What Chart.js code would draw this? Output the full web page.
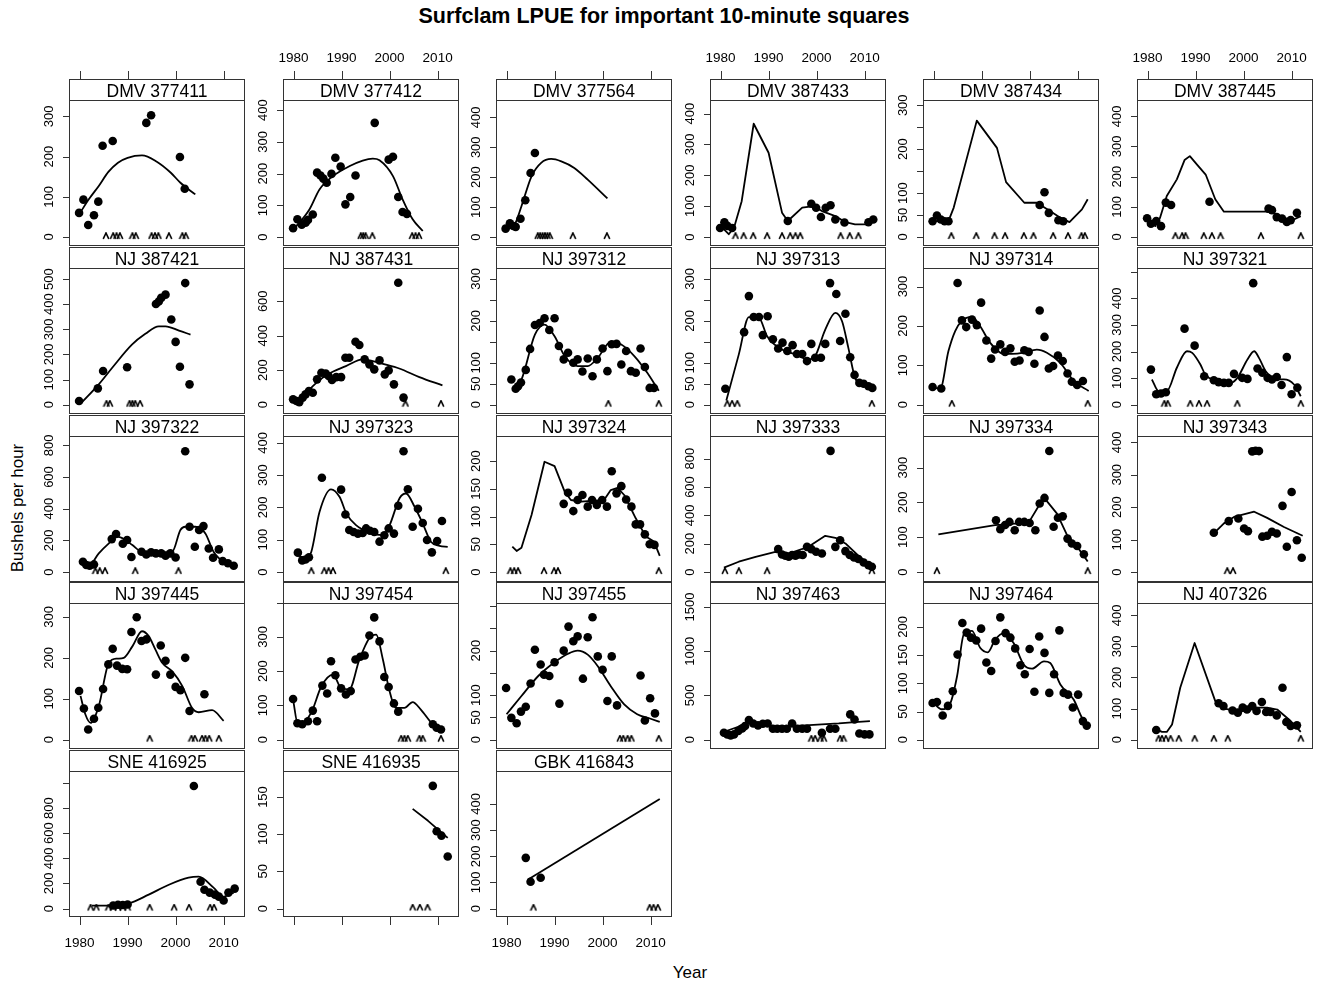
<!DOCTYPE html>
<html>
<head>
<meta charset="utf-8">
<title>Surfclam LPUE for important 10-minute squares</title>
<script src="https://cdn.jsdelivr.net/npm/chart.js@4.4.1/dist/chart.umd.min.js"></script>
<style>
  html, body { margin: 0; padding: 0; background: #fff; }
  #page { position: relative; width: 1320px; height: 983px; overflow: hidden; font-family: "Liberation Sans", Arial, sans-serif; color: #000; }
  #page canvas { position: absolute; }
  .title { position: absolute; left: 0; width: 1328px; top: 4px; text-align: center; font-weight: bold; font-size: 21.5px; }
  .xlab { position: absolute; left: 640px; width: 100px; top: 963px; text-align: center; font-size: 17px; }
  .ylab { position: absolute; left: 18px; top: 508px; font-size: 17px; white-space: nowrap; transform: translate(-50%, -50%) rotate(-90deg); }
</style>
</head>
<body>
<div id="page">
  <div class="title">Surfclam LPUE for important 10-minute squares</div>
  <div class="xlab">Year</div>
  <div class="ylab">Bushels per hour</div>
</div>
<script>
// ---- shared axis values ----
const yearRange = [1977.8, 2014.45];
const yearTicks = [1980, 1990, 2000, 2010];

const ticks0to300 = [0, 100, 200, 300];
const ticks0to400 = [0, 100, 200, 300, 400];
const ticks0to500 = [0, 100, 200, 300, 400, 500];
const ticks0to600 = [0, 200, 400, 600];
const ticks0to800 = [0, 200, 400, 600, 800];
const ticks0to1000 = [0, 200, 400, 600, 800, 1000];
const ticks0to1500 = [0, 500, 1000, 1500];
const ticks50to150 = [0, 50, 100, 150];
const ticks50to200 = [0, 50, 100, 150, 200];
const ticks50to300 = [0, 50, 100, 150, 200, 250, 300];
const labels50to300 = [0, 50, 100, 200, 300];
const labels50to200 = [0, 50, 100, 200];

// ---- DMV 377411 ----
const year377411 = [1979.9, 1980.8, 1981.8, 1983.0, 1983.9, 1984.8, 1986.9, 1993.9, 1994.9, 2000.9, 2001.9];
const lpue377411 = [60, 93, 30, 54, 88, 227, 239, 284, 303, 199, 120];
const fitYear377411 = [1980.2, 1982, 1984, 1986, 1988, 1990, 1993, 1996, 1999, 2001, 2004.1];
const fit377411 = [62, 95, 127, 162, 185, 197, 203, 188, 160, 135, 106];
const gap377411 = [1985.5, 1987, 1987.7, 1988.4, 1991, 1991.7, 1995, 1995.7, 1996.4, 1998.6, 2001.4, 2002.1];
const lim377411 = [-22.4, 341];

// ---- DMV 377412 ----
const year377412 = [1979.9, 1980.8, 1981.7, 1982.5, 1983.0, 1984.0, 1984.9, 1985.6, 1986.2, 1986.9, 1987.9, 1988.7, 1989.8, 1990.8, 1991.8, 1992.9, 1996.9, 1999.8, 2000.7, 2001.8, 2002.7, 2003.6];
const lpue377412 = [28, 56, 39, 45, 54, 71, 203, 194, 184, 171, 199, 250, 222, 103, 126, 194, 360, 244, 253, 126, 79, 73];
const fitYear377412 = [1980, 1983.3, 1985.4, 1988.2, 1991.6, 1994.4, 1996.5, 1997.9, 2000.7, 2002.7, 2004.8, 2006.9];
const fit377412 = [24, 87, 150, 192, 223, 241, 247, 242, 192, 119, 56, 19];
const gap377412 = [1994, 1994.5, 1995, 1996.4, 2004.7, 2005.4, 2006.1];
const lim377412 = [-28.3, 432];

// ---- DMV 377564 ----
const year377564 = [1979.8, 1980.7, 1981.4, 1981.9, 1982.9, 1983.9, 1985.0, 1985.9];
const lpue377564 = [28, 46, 37, 34, 61, 123, 214, 281];
const fitYear377564 = [1980.3, 1981.7, 1983.1, 1985.2, 1987.2, 1989.3, 1991.4, 1994.1, 1996.9, 2001];
const fit377564 = [26, 42, 103, 203, 248, 261, 253, 231, 192, 129];
const gap377564 = [1986.5, 1987, 1987.5, 1988, 1988.5, 1989, 1993.8, 2000.9];
const lim377564 = [-30, 458];

// ---- DMV 387433 ----
const year387433 = [1979.9, 1980.8, 1981.4, 1982.4, 1994.0, 1998.9, 1999.9, 2000.9, 2001.9, 2002.9, 2003.9, 2005.8, 2010.8, 2011.8];
const lpue387433 = [29, 48, 36, 29, 52, 108, 95, 65, 95, 103, 57, 47, 48, 57];
const fitYear387433 = [1980, 1981.7, 1982.8, 1984.4, 1986.9, 1990, 1992.8, 1994, 1997, 1999.4, 2001.1, 2003.9, 2006, 2008, 2010.8, 2012.2];
const fit387433 = [36, 9, 30, 116, 367, 273, 79, 52, 95, 100, 84, 68, 48, 41, 41, 57];
const gap387433 = [1983.1, 1984.8, 1986.8, 1989.7, 1992.8, 1994.5, 1995.6, 1996.6, 2005, 2006.9, 2008.7];
const lim387433 = [-29.1, 444];

// ---- DMV 387434 ----
const year387434 = [1979.8, 1980.7, 1981.5, 1982.3, 1983.1, 2002.1, 2003.1, 2004.0, 2006.0, 2007.0];
const lpue387434 = [36, 49, 40, 36, 36, 73, 102, 55, 38, 36];
const fitYear387434 = [1980, 1983.1, 1984.2, 1989, 1993.2, 1995.1, 1998.9, 2001.5, 2004, 2006.4, 2008.3, 2010.9, 2012.1];
const fit387434 = [36, 36, 67, 265, 203, 125, 78, 78, 61, 44, 34, 63, 86];
const gap387434 = [1983.7, 1988.9, 1992.7, 1994.9, 1998.8, 2000.8, 2004.9, 2008, 2010.8, 2011.5];
const lim387434 = [-20.5, 312];

// ---- DMV 387445 ----
const year387445 = [1979.9, 1980.7, 1981.8, 1982.8, 1983.8, 1984.9, 1992.9, 2005.2, 2005.9, 2006.9, 2008, 2009, 2009.8, 2011.1];
const lpue387445 = [62, 44, 53, 36, 114, 106, 117, 94, 89, 66, 61, 50, 56, 80];
const fitYear387445 = [1980, 1981.6, 1982.6, 1984, 1986.1, 1987.7, 1988.8, 1990.3, 1992.1, 1994.1, 1995.9, 2004.6, 2006.3, 2008.4, 2009.8, 2011.9];
const fit387445 = [58, 36, 64, 136, 191, 255, 268, 240, 207, 125, 84, 84, 80, 53, 53, 69];
const gap387445 = [1985.8, 1987.2, 1987.9, 1991.7, 1993.4, 1995.2, 2003.6, 2011.9];
const lim387445 = [-29.8, 454];

// ---- NJ 387421 ----
const year387421 = [1979.9, 1983.8, 1984.9, 1989.9, 1995.9, 1996.5, 1997.0, 1997.9, 1999.1, 2000, 2000.9, 2002, 2002.9];
const lpue387421 = [15, 65, 134, 149, 401, 411, 425, 438, 339, 250, 151, 484, 81];
const fitYear387421 = [1980.2, 1984, 1986.8, 1990.9, 1993.7, 1996.5, 1997.9, 2000.7, 2003.1];
const fit387421 = [4, 81, 147, 239, 282, 312, 312, 295, 279];
const gap387421 = [1985.6, 1986.3, 1990.4, 1991, 1991.6, 1992.6];
const lim387421 = [-37, 544];

// ---- NJ 387431 ----
const year387431 = [1979.9, 1980.6, 1981.2, 1981.9, 1982.5, 1983.2, 1984, 1984.9, 1985.8, 1986.7, 1987.3, 1988.0, 1988.9, 1989.9, 1990.8, 1991.6, 1992.9, 1993.7, 1994.8, 1995.8, 1996.8, 1997.9, 1999, 1999.8, 2000.9, 2001.8, 2002.9];
const lpue387431 = [31, 21, 15, 41, 60, 79, 69, 147, 185, 180, 166, 143, 160, 160, 272, 272, 365, 346, 263, 234, 205, 257, 176, 199, 118, 707, 41];
const fitYear387431 = [1980, 1981.9, 1984.4, 1987.1, 1990.9, 1994.4, 1996.5, 1998.6, 2002, 2006.2, 2011];
const fit387431 = [25, 50, 118, 176, 224, 263, 253, 237, 210, 160, 112];
const gap387431 = [2003.3, 2010.7];
const lim387431 = [-54, 793];

// ---- NJ 397312 ----
const year397312 = [1981, 1981.9, 1982.4, 1983, 1984, 1984.9, 1985.9, 1986.9, 1987.9, 1988.9, 1990, 1990.9, 1991.9, 1992.8, 1993.9, 1994.8, 1995.8, 1996.9, 1997.9, 1998.8, 2000, 2001, 2001.9, 2002.9, 2003.9, 2004.9, 2005.9, 2006.9, 2007.9, 2008.8, 2009.8, 2010.7];
const lpue397312 = [60, 38, 44, 53, 83, 133, 190, 195, 206, 178, 206, 140, 108, 124, 100, 108, 79, 110, 68, 108, 134, 80, 144, 145, 96, 128, 80, 76, 134, 90, 40, 40];
const fitYear397312 = [1981.7, 1983.1, 1985.9, 1987.9, 1990, 1992.1, 1994.8, 1996.9, 1999, 2001.7, 2003.8, 2006.6, 2009.3, 2011.7];
const fit397312 = [44, 60, 167, 191, 163, 116, 92, 92, 112, 150, 144, 116, 76, 33];
const gap397312 = [2001.2, 2011.7];
const lim397312 = [-22.2, 326];

// ---- NJ 397313 ----
const year397313 = [1981, 1984.9, 1985.9, 1986.9, 1988, 1988.8, 1989.8, 1990.9, 1992, 1992.9, 1993.9, 1995, 1995.9, 1997, 1998, 1998.9, 1999.7, 2000.9, 2001.8, 2002.8, 2004.1, 2004.9, 2006, 2007, 2007.9, 2008.9, 2009.8, 2010.8, 2011.6];
const lpue397313 = [38, 173, 259, 209, 209, 166, 211, 156, 134, 148, 128, 142, 121, 121, 104, 145, 112, 112, 145, 290, 264, 152, 217, 113, 71, 52, 50, 44, 40];
const fitYear397313 = [1981.2, 1983.8, 1985.9, 1988, 1989.7, 1992.1, 1995.6, 1998.3, 1999.7, 2001.8, 2003.9, 2005.3, 2006.6, 2008, 2009.4, 2011.8];
const fit397313 = [10, 120, 209, 207, 163, 136, 120, 108, 116, 179, 219, 199, 136, 64, 48, 37];
const gap397313 = [1981.4, 1982.4, 1983.5, 2011.5];
const lim397313 = [-22.2, 326];

// ---- NJ 397314 ----
const year397314 = [1979.8, 1981.6, 1985, 1985.9, 1986.8, 1988, 1989, 1989.9, 1991, 1992, 1992.8, 1993.9, 1994.9, 1996, 1996.9, 1997.9, 1998.9, 1999.8, 2001, 2002.1, 2003.1, 2004, 2004.9, 2005.9, 2006.9, 2007.9, 2008.8, 2009.9, 2011.1];
const lpue397314 = [45, 41, 309, 214, 197, 216, 202, 259, 163, 117, 140, 153, 134, 143, 109, 112, 138, 134, 104, 239, 172, 92, 98, 125, 111, 79, 58, 50, 60];
const fitYear397314 = [1980, 1981.4, 1983.1, 1984.5, 1985.9, 1988, 1989.7, 1991.8, 1994.6, 1996.3, 1998.8, 2001.5, 2003.6, 2006.4, 2009.2, 2012.3];
const fit397314 = [43, 41, 136, 187, 213, 223, 199, 157, 129, 129, 132, 140, 132, 106, 60, 35];
const gap397314 = [1983.8, 2012.1];
const lim397314 = [-23.7, 347];

// ---- NJ 397321 ----
const year397321 = [1980.7, 1981.8, 1982.8, 1983.8, 1987.7, 1989.8, 1991.8, 1993.8, 1994.8, 1995.9, 1996.9, 1998, 1999.7, 2000.8, 2002, 2002.9, 2003.9, 2005, 2005.9, 2006.9, 2007.9, 2009, 2010, 2011.2];
const lpue397321 = [132, 39, 42, 47, 286, 222, 107, 92, 85, 82, 82, 116, 101, 97, 457, 136, 120, 101, 95, 104, 74, 179, 39, 64];
const fitYear397321 = [1980.9, 1982.3, 1984, 1986.1, 1988.2, 1989.3, 1991, 1992, 1993.8, 1997.3, 1998.7, 2000.8, 2002.2, 2003.2, 2004.6, 2007, 2008.4, 2010.5, 2011.9];
const fit397321 = [95, 51, 51, 139, 201, 195, 151, 114, 91, 82, 101, 170, 201, 176, 126, 95, 95, 76, 32];
const gap397321 = [1983.5, 1984.2, 1988.9, 1990.7, 1992.4, 1998.7, 2011.9];
const lim397321 = [-35, 514];

// ---- NJ 397322 ----
const year397322 = [1980.7, 1981.4, 1982.1, 1983, 1986.7, 1987.6, 1989, 1989.9, 1990.8, 1992.9, 1993.9, 1994.9, 1995.9, 1997, 1997.9, 1998.9, 2000, 2002, 2002.9, 2004, 2004.9, 2005.8, 2006.9, 2007.8, 2009, 2009.8, 2010.9, 2012.1];
const lpue397322 = [65, 44, 40, 48, 208, 240, 179, 202, 95, 128, 111, 124, 118, 118, 103, 118, 92, 763, 286, 160, 265, 290, 149, 90, 143, 69, 55, 40];
const fitYear397322 = [1980.9, 1981.9, 1984, 1986.1, 1987.8, 1989.6, 1991, 1993, 1997.2, 1999.3, 2001, 2002, 2004.1, 2006.2, 2007.9, 2010.4, 2012.1];
const fit397322 = [65, 40, 118, 181, 223, 202, 170, 128, 124, 128, 265, 286, 286, 244, 128, 55, 34];
const gap397322 = [1983.3, 1984.2, 1985.3, 1991.6, 2000.6];
const lim397322 = [-63, 859];

// ---- NJ 397323 ----
const year397323 = [1980.9, 1981.8, 1982.5, 1983.2, 1985.9, 1989.9, 1990.8, 1991.6, 1992.5, 1993.4, 1994.4, 1995.1, 1995.9, 1996.8, 1997.9, 1998.9, 1999.8, 2000.9, 2001.8, 2002.9, 2003.8, 2004.8, 2005.9, 2006.9, 2007.8, 2008.8, 2009.9, 2010.9];
const lpue397323 = [60, 36, 39, 46, 292, 255, 178, 130, 124, 119, 121, 135, 128, 124, 94, 114, 135, 119, 205, 374, 256, 140, 196, 152, 99, 61, 96, 158];
const fitYear397323 = [1980.9, 1982.6, 1983.7, 1985.4, 1987.8, 1989.6, 1991, 1993, 1995.8, 1998.6, 2000, 2002.1, 2003.4, 2005.2, 2006.9, 2008.6, 2010.4, 2012.1];
const fit397323 = [52, 42, 63, 186, 256, 232, 181, 145, 122, 114, 145, 229, 243, 202, 150, 94, 81, 78];
const gap397323 = [1983.7, 1986.4, 1987.3, 1988.2, 2011.7];
const lim397323 = [-30.8, 421];

// ---- NJ 397324 ----
const year397324 = [1991.9, 1992.8, 1993.9, 1994.8, 1995.8, 1996.9, 1997.8, 1998.8, 1999.9, 2000.9, 2001.9, 2002.9, 2003.9, 2004.9, 2006, 2006.9, 2007.8, 2008.8, 2009.8, 2010.8];
const lpue397324 = [123, 143, 110, 130, 139, 118, 130, 121, 130, 118, 182, 142, 155, 131, 118, 86, 86, 68, 50, 49];
const fitYear397324 = [1981.2, 1982.1, 1983.1, 1985.2, 1987.9, 1990, 1992.1, 1993.4, 1995.5, 2000.3, 2001.7, 2003.1, 2004.5, 2006.9, 2009, 2010.7, 2011.9];
const fit397324 = [46, 38, 44, 103, 199, 191, 145, 130, 127, 130, 148, 152, 139, 97, 64, 55, 29];
const gap397324 = [1980.8, 1981.6, 1982.4, 1987.8, 1989.9, 1990.7, 2011.7];
const lim397324 = [-18, 245.5];

// ---- NJ 397333 ----
const year397333 = [1992, 1992.8, 1993.5, 1994.2, 1994.9, 1995.6, 1996.3, 1997.1, 1998, 1998.9, 1999.9, 2001.1, 2002.9, 2003.9, 2004.9, 2006, 2006.9, 2007.8, 2008.7, 2009.8, 2010.8, 2011.5];
const lpue397333 = [162, 124, 115, 108, 120, 115, 124, 120, 178, 162, 143, 131, 855, 178, 225, 148, 120, 103, 92, 68, 49, 38];
const fitYear397333 = [1980.7, 1983.8, 1987.3, 1991.4, 1994.2, 1998.3, 2001.8, 2003.9, 2006, 2008.7, 2010.8, 2012];
const fit397333 = [31, 73, 108, 143, 131, 178, 256, 242, 202, 115, 61, 21];
const gap397333 = [1980.9, 1983.8, 1989.7, 2011.5];
const lim397333 = [-70, 960];

// ---- NJ 397334 ----
const year397334 = [1993, 1993.9, 1994.9, 1995.8, 1996.9, 1997.8, 1998.9, 2000, 2001.2, 2002.1, 2003.1, 2004.1, 2005, 2005.9, 2006.9, 2007.9, 2008.8, 2009.9, 2011.3];
const lpue397334 = [149, 123, 135, 144, 120, 144, 144, 141, 120, 197, 213, 348, 130, 156, 160, 96, 82, 75, 51];
const fitYear397334 = [1981, 1992.8, 1999.8, 2002.2, 2003.3, 2005.7, 2007.8, 2009.9, 2012.1];
const fit397334 = [108, 135, 142, 197, 209, 168, 106, 73, 30];
const gap397334 = [1980.7, 2012.1];
const lim397334 = [-28.7, 391];

// ---- NJ 397343 ----
const year397343 = [1993.8, 1996.9, 1998.9, 2000.1, 2000.9, 2001.8, 2002.5, 2003.2, 2003.9, 2004.9, 2005.9, 2006.9, 2008.1, 2009, 2010, 2011.1, 2012.1];
const lpue397343 = [121, 157, 165, 134, 126, 372, 374, 373, 109, 112, 124, 119, 204, 78, 247, 98, 44];
const fitYear397343 = [1993.8, 1995.9, 1998, 2002.2, 2004.9, 2008.4, 2012.3];
const fit397343 = [119, 150, 170, 186, 167, 139, 112];
const gap397343 = [1996.6, 1997.8];
const lim397343 = [-30.8, 419.5];

// ---- NJ 397445 ----
const year397445 = [1979.9, 1980.9, 1981.8, 1983, 1983.9, 1984.9, 1986, 1986.9, 1987.8, 1988.9, 1989.9, 1990.8, 1991.9, 1992.9, 1993.9, 1995.9, 1996.9, 1997.9, 1998.9, 2000, 2001, 2002, 2002.9, 2006];
const lpue397445 = [119, 76, 25, 51, 78, 124, 184, 222, 181, 173, 172, 263, 299, 241, 245, 159, 230, 193, 159, 129, 121, 200, 70, 111];
const fitYear397445 = [1980.2, 1981.2, 1982.3, 1984, 1986.1, 1987.8, 1989.2, 1991, 1993, 1994.4, 1995.8, 1997.2, 1999.3, 2001.4, 2003.4, 2004.8, 2007.6, 2010];
const fit397445 = [107, 62, 41, 82, 188, 198, 200, 228, 265, 253, 220, 188, 167, 131, 78, 67, 72, 46];
const gap397445 = [1994.6, 2003.3, 2004, 2005.5, 2006.2, 2007, 2009];
const lim397445 = [-22.8, 334];

// ---- NJ 397454 ----
const year397454 = [1979.9, 1980.8, 1981.8, 1983, 1984, 1984.9, 1986, 1987, 1987.8, 1988.7, 1989.9, 1990.9, 1991.9, 1992.9, 1993.9, 1994.8, 1995.8, 1996.8, 1997.9, 1998.9, 1999.8, 2000.9, 2001.8, 2009, 2009.8, 2010.7];
const lpue397454 = [119, 48, 45, 54, 85, 54, 158, 135, 229, 188, 150, 132, 142, 234, 242, 246, 304, 357, 287, 183, 154, 106, 82, 45, 35, 30];
const fitYear397454 = [1979.9, 1980.9, 1982.3, 1983.7, 1985.8, 1988.2, 1989.9, 1991.6, 1993.7, 1995.8, 1997.2, 1998.6, 1999.9, 2001.3, 2003.1, 2004.8, 2006.5, 2009, 2011];
const fit397454 = [117, 45, 54, 79, 156, 190, 151, 147, 234, 297, 307, 234, 147, 93, 93, 110, 88, 45, 25];
const gap397454 = [2002.4, 2003.1, 2003.8, 2006.2, 2006.9, 2010.7];
const lim397454 = [-27, 399];

// ---- NJ 397455 ----
const year397455 = [1979.9, 1981, 1982.1, 1983, 1984, 1985, 1985.9, 1987.1, 1987.8, 1988.9, 1990, 1991, 1991.9, 1992.9, 1993.9, 1994.8, 1995.9, 1996.9, 1997.9, 1999, 2000, 2001, 2001.9, 2003, 2007.9, 2008.8, 2009.9, 2010.9];
const lpue397455 = [116, 49, 37, 63, 74, 126, 202, 169, 146, 143, 174, 81, 200, 254, 221, 232, 137, 230, 275, 187, 157, 87, 187, 77, 144, 43, 93, 59];
const fitYear397455 = [1980, 1983.1, 1986.6, 1990, 1992.8, 1994.8, 1996.9, 1999, 2001.7, 2004.5, 2007.2, 2010, 2011.9];
const fit397455 = [57, 98, 143, 174, 193, 200, 191, 165, 120, 79, 57, 47, 40];
const gap397455 = [2003.6, 2004.3, 2005.2, 2006, 2011.7];
const lim397455 = [-21, 307];

// ---- NJ 397463 ----
const year397463 = [1980.7, 1981.4, 1982.1, 1982.8, 1983.7, 1984.5, 1985.1, 1985.9, 1986.8, 1987.8, 1988.8, 1989.8, 1990.9, 1991.8, 1992.8, 1993.8, 1994.9, 1995.9, 1997, 1998, 2001.1, 2002.8, 2003.9, 2007, 2007.9, 2008.9, 2010, 2011];
const lpue397463 = [79, 60, 49, 60, 98, 128, 154, 222, 184, 162, 180, 184, 124, 124, 124, 124, 184, 124, 124, 124, 79, 124, 124, 286, 229, 71, 60, 60];
const fitYear397463 = [1980.3, 1983.1, 1985.9, 1988.7, 1991.4, 1994.2, 1997.6, 2001.1, 2004.6, 2008, 2011.1];
const fit397463 = [79, 135, 192, 173, 154, 154, 162, 173, 184, 199, 211];
const gap397463 = [1998.9, 1999.7, 2000.8, 2001.5, 2004.9, 2005.6];
const lim397463 = [-105, 1545];

// ---- NJ 397464 ----
const year397464 = [1979.8, 1980.7, 1981.9, 1983, 1984, 1985, 1986, 1986.9, 1987.8, 1988.9, 1989.9, 1991, 1992, 1992.9, 1993.9, 1995, 1996, 1997, 1998.1, 1999, 2000, 2001, 2002, 2003.1, 2004.1, 2005.1, 2006.2, 2007.1, 2008, 2009, 2010.1, 2011.1, 2011.9];
const lpue397464 = [65, 67, 43, 60, 86, 151, 207, 190, 181, 176, 197, 137, 122, 175, 217, 189, 181, 162, 132, 116, 161, 85, 183, 154, 83, 116, 194, 83, 80, 57, 80, 33, 25];
const fitYear397464 = [1980, 1981.7, 1983.5, 1984.9, 1986.3, 1988, 1989.7, 1991.3, 1992.8, 1994.6, 1996.7, 1998.8, 2000.5, 2003, 2004.3, 2006.4, 2009.2, 2010.9, 2012.3];
const fit397464 = [65, 54, 65, 113, 187, 193, 163, 155, 177, 189, 171, 133, 126, 139, 136, 98, 71, 39, 24];
const gap397464 = [];
const lim397464 = [-16.5, 242.5];

// ---- NJ 407326 ----
const year407326 = [1981.8, 1994.8, 1995.8, 1997.7, 1998.8, 1999.8, 2000.7, 2001.8, 2002.7, 2003.8, 2004.7, 2005.6, 2006.9, 2008.1, 2008.9, 2009.8, 2011.1];
const lpue407326 = [31, 117, 108, 94, 87, 103, 97, 108, 92, 121, 89, 89, 78, 167, 57, 44, 46];
const fitYear407326 = [1981.8, 1983, 1984, 1985.1, 1986.8, 1989.8, 1994.1, 1996.2, 1999.3, 2002.1, 2004.9, 2007, 2009.8, 2011.9];
const fit407326 = [33, 25, 25, 49, 167, 311, 124, 99, 92, 103, 103, 97, 60, 25];
const gap407326 = [1982.3, 1983, 1983.8, 1984.8, 1986.5, 1989.8, 1993.8, 1996.7, 2011.9];
const lim407326 = [-30, 439.6];

// ---- SNE 416925 ----
const year416925 = [1987, 1988, 1989, 1990, 2003.8, 2005.2, 2006, 2007.1, 2008.2, 2009, 2010, 2011, 2012.3];
const lpue416925 = [25, 30, 28, 32, 976, 214, 150, 127, 111, 95, 64, 127, 159];
const fitYear416925 = [1982.6, 1986.1, 1990.2, 1994.4, 1998.6, 2002.7, 2004.8, 2007.9, 2010, 2012.1];
const fit416925 = [24, 24, 40, 111, 190, 246, 254, 167, 95, 127];
const gap416925 = [1982.3, 1983.5, 1986, 1987, 1988, 1989, 1990, 1994.6, 1999.7, 2002.8, 2007.2, 2008];
const lim416925 = [-67, 1095];

// ---- SNE 416935 ----
const year416935 = [2009, 2009.8, 2010.8, 2012.1];
const lpue416935 = [165, 104, 98, 70];
const fitYear416935 = [2004.8, 2008, 2012.1];
const fit416935 = [134, 118, 95];
const gap416935 = [2004.8, 2006.3, 2007.9];
const lim416935 = [-11.4, 185];

// ---- GBK 416843 ----
const year416843 = [1984, 1985, 1987.1];
const lpue416843 = [194, 103, 118];
const fitYear416843 = [1984.4, 2011.9];
const fit416843 = [110, 419];
const gap416843 = [1985.6, 2009.8, 2010.6, 2011.5];
const lim416843 = [-32, 526];

// ---- panel list (row by row, left to right) ----
const panels = [
  ['DMV 377411', year377411, lpue377411, fitYear377411, fit377411, gap377411, lim377411, ticks0to300, ticks0to300],
  ['DMV 377412', year377412, lpue377412, fitYear377412, fit377412, gap377412, lim377412, ticks0to400, ticks0to400],
  ['DMV 377564', year377564, lpue377564, fitYear377564, fit377564, gap377564, lim377564, ticks0to400, ticks0to400],
  ['DMV 387433', year387433, lpue387433, fitYear387433, fit387433, gap387433, lim387433, ticks0to400, ticks0to400],
  ['DMV 387434', year387434, lpue387434, fitYear387434, fit387434, gap387434, lim387434, ticks50to300, labels50to300],
  ['DMV 387445', year387445, lpue387445, fitYear387445, fit387445, gap387445, lim387445, ticks0to400, ticks0to400],
  ['NJ 387421', year387421, lpue387421, fitYear387421, fit387421, gap387421, lim387421, ticks0to500, ticks0to500],
  ['NJ 387431', year387431, lpue387431, fitYear387431, fit387431, gap387431, lim387431, ticks0to600, ticks0to600],
  ['NJ 397312', year397312, lpue397312, fitYear397312, fit397312, gap397312, lim397312, ticks50to300, labels50to300],
  ['NJ 397313', year397313, lpue397313, fitYear397313, fit397313, gap397313, lim397313, ticks50to300, labels50to300],
  ['NJ 397314', year397314, lpue397314, fitYear397314, fit397314, gap397314, lim397314, ticks0to300, ticks0to300],
  ['NJ 397321', year397321, lpue397321, fitYear397321, fit397321, gap397321, lim397321, ticks0to500, ticks0to400],
  ['NJ 397322', year397322, lpue397322, fitYear397322, fit397322, gap397322, lim397322, ticks0to800, ticks0to800],
  ['NJ 397323', year397323, lpue397323, fitYear397323, fit397323, gap397323, lim397323, ticks0to400, ticks0to400],
  ['NJ 397324', year397324, lpue397324, fitYear397324, fit397324, gap397324, lim397324, ticks50to200, ticks50to200],
  ['NJ 397333', year397333, lpue397333, fitYear397333, fit397333, gap397333, lim397333, ticks0to800, ticks0to800],
  ['NJ 397334', year397334, lpue397334, fitYear397334, fit397334, gap397334, lim397334, ticks0to300, ticks0to300],
  ['NJ 397343', year397343, lpue397343, fitYear397343, fit397343, gap397343, lim397343, ticks0to400, ticks0to400],
  ['NJ 397445', year397445, lpue397445, fitYear397445, fit397445, gap397445, lim397445, ticks0to300, ticks0to300],
  ['NJ 397454', year397454, lpue397454, fitYear397454, fit397454, gap397454, lim397454, ticks0to400, ticks0to300],
  ['NJ 397455', year397455, lpue397455, fitYear397455, fit397455, gap397455, lim397455, ticks50to300, labels50to200],
  ['NJ 397463', year397463, lpue397463, fitYear397463, fit397463, gap397463, lim397463, ticks0to1500, ticks0to1500],
  ['NJ 397464', year397464, lpue397464, fitYear397464, fit397464, gap397464, lim397464, ticks50to200, ticks50to200],
  ['NJ 407326', year407326, lpue407326, fitYear407326, fit407326, gap407326, lim407326, ticks0to400, ticks0to400],
  ['SNE 416925', year416925, lpue416925, fitYear416925, fit416925, gap416925, lim416925, ticks0to1000, ticks0to800],
  ['SNE 416935', year416935, lpue416935, fitYear416935, fit416935, gap416935, lim416935, ticks50to150, ticks50to150],
  ['GBK 416843', year416843, lpue416843, fitYear416843, fit416843, gap416843, lim416843, ticks0to400, ticks0to400]
];

// fits whose loess vertices are sharp are drawn as straight segments
const angularFits = new Set(['DMV 387433', 'DMV 387434', 'DMV 387445', 'NJ 397324', 'NJ 397333',
  'NJ 397334', 'NJ 397343', 'NJ 397463', 'NJ 407326', 'SNE 416935', 'GBK 416843']);

// ---- layout ----
const NCOL = 6, NROW = 5;
const PANEL_W = 176, PANEL_H = 146, STRIP_H = 21;
const PAD = { left: 52, right: 6, top: 30 + STRIP_H, bottom: 40 };
const colLeft = c => Math.round(69.3 + c * 213.45);
const stripTop = r => Math.round(79 + r * 167.75);
const FONT = '"Liberation Sans", Arial, sans-serif';
const INK = '#000';
const FRAME = '#333';

// "^" marker used for flagged years along the baseline
function makeCaret() {
  const c = document.createElement('canvas');
  c.width = 8; c.height = 10;
  const g = c.getContext('2d');
  g.strokeStyle = '#000';
  g.lineWidth = 1.6;
  g.lineJoin = 'miter';
  g.beginPath();
  g.moveTo(1.2, 6.9);
  g.lineTo(4, 1);
  g.lineTo(6.8, 6.9);
  g.stroke();
  return c;
}
const caret = makeCaret();

// strip, frame, axis ticks and labels in the lattice style
const latticePanel = {
  id: 'latticePanel',
  afterDraw(chart, args, opts) {
    const ctx = chart.ctx;
    const a = chart.chartArea;
    const xs = chart.scales.x, ys = chart.scales.y;
    ctx.save();
    ctx.strokeStyle = FRAME;
    ctx.lineWidth = 1;
    // panel frame and strip
    ctx.strokeRect(a.left + 0.5, a.top + 0.5, a.right - a.left - 1, a.bottom - a.top - 1);
    ctx.strokeRect(a.left + 0.5, a.top - STRIP_H + 0.5, a.right - a.left - 1, STRIP_H);
    ctx.fillStyle = INK;
    ctx.font = '17.5px ' + FONT;
    ctx.textAlign = 'center';
    ctx.textBaseline = 'alphabetic';
    ctx.fillText(opts.name, (a.left + a.right) / 2, a.top - STRIP_H + 18);

    // y axis (left)
    ctx.beginPath();
    opts.yTicks.forEach(t => {
      const py = Math.round(ys.getPixelForValue(t)) + 0.5;
      ctx.moveTo(a.left, py);
      ctx.lineTo(a.left - 6, py);
    });
    ctx.stroke();
    ctx.font = '13px ' + FONT;
    opts.yLabels.forEach(t => {
      const py = ys.getPixelForValue(t);
      ctx.save();
      ctx.translate(a.left - 16.5, py);
      ctx.rotate(-Math.PI / 2);
      ctx.textAlign = 'center';
      ctx.textBaseline = 'alphabetic';
      ctx.fillText(String(t), 0, 0);
      ctx.restore();
    });

    // x axis on the top row and under the last panel of each column
    ctx.font = '13.5px ' + FONT;
    ctx.textAlign = 'center';
    if (opts.top) {
      const y0 = a.top - STRIP_H;
      ctx.beginPath();
      yearTicks.forEach(t => {
        const px = Math.round(xs.getPixelForValue(t)) + 0.5;
        ctx.moveTo(px, y0);
        ctx.lineTo(px, y0 - 8);
      });
      ctx.stroke();
      if (opts.topLabels) {
        yearTicks.forEach(t => ctx.fillText(String(t), xs.getPixelForValue(t), y0 - 17));
      }
    }
    if (opts.bottom) {
      const y0 = a.bottom;
      ctx.beginPath();
      yearTicks.forEach(t => {
        const px = Math.round(xs.getPixelForValue(t)) + 0.5;
        ctx.moveTo(px, y0);
        ctx.lineTo(px, y0 + 8);
      });
      ctx.stroke();
      if (opts.bottomLabels) {
        yearTicks.forEach(t => ctx.fillText(String(t), xs.getPixelForValue(t), y0 + 30));
      }
    }
    ctx.restore();
  }
};

const page = document.getElementById('page');

panels.forEach((p, i) => {
  const [name, yrs, vals, fitYrs, fitVals, gaps, lim, yTicks, yLabels] = p;
  const row = Math.floor(i / NCOL), col = i % NCOL;
  const canvas = document.createElement('canvas');
  const W = PAD.left + PANEL_W + PAD.right;
  const H = PAD.top + PANEL_H + PAD.bottom;
  canvas.width = W; canvas.height = H;
  canvas.style.width = W + 'px'; canvas.style.height = H + 'px';
  canvas.style.left = (colLeft(col) - PAD.left) + 'px';
  canvas.style.top = (stripTop(row) - (PAD.top - STRIP_H)) + 'px';
  page.appendChild(canvas);

  const lastRow = row === NROW - 1;
  const angular = angularFits.has(name);
  new Chart(canvas, {
    type: 'scatter',
    data: {
      datasets: [
        {
          type: 'line',
          data: fitYrs.map((x, k) => ({ x, y: fitVals[k] })),
          borderColor: INK,
          borderWidth: 1.8,
          pointRadius: 0,
          fill: false,
          tension: 0,
          cubicInterpolationMode: angular ? 'default' : 'monotone',
          borderJoinStyle: 'round',
          clip: false
        },
        {
          data: yrs.map((x, k) => ({ x, y: vals[k] })),
          pointRadius: 4.3,
          pointBackgroundColor: INK,
          pointBorderWidth: 0,
          showLine: false,
          clip: false
        },
        {
          data: gaps.map(x => ({ x, y: 0 })),
          pointStyle: caret,
          pointRadius: 4,
          showLine: false,
          clip: false
        }
      ]
    },
    options: {
      responsive: false,
      animation: false,
      events: [],
      devicePixelRatio: 1,
      layout: { padding: PAD },
      plugins: {
        legend: { display: false },
        tooltip: { enabled: false },
        latticePanel: {
          name,
          yTicks,
          yLabels,
          top: row === 0,
          topLabels: row === 0 && col % 2 === 1,
          bottom: lastRow,
          bottomLabels: lastRow && col % 2 === 0
        }
      },
      scales: {
        x: { type: 'linear', min: yearRange[0], max: yearRange[1], display: false },
        y: { type: 'linear', min: lim[0], max: lim[1], display: false }
      }
    },
    plugins: [latticePanel]
  });
});
</script>
</body>
</html>
